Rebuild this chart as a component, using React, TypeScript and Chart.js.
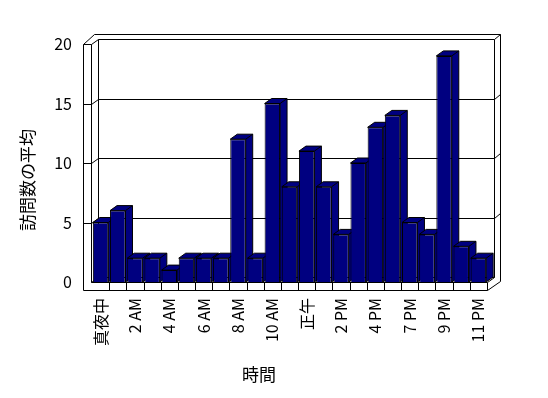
import React, { useEffect, useRef } from 'react';
import { Chart, registerables } from 'chart.js';

Chart.register(...registerables);

const hourLabels = [
  '真夜中', '1 AM', '2 AM', '3 AM', '4 AM', '5 AM', '6 AM', '7 AM', '8 AM', '9 AM', '10 AM', '11 AM',
  '正午', '1 PM', '2 PM', '3 PM', '4 PM', '5 PM', '7 PM', '8 PM', '9 PM', '10 PM', '11 PM',
];
const avgVisits = [5, 6, 2, 2, 1, 2, 2, 2, 12, 2, 15, 8, 11, 8, 4, 10, 13, 14, 5, 4, 19, 3, 2];
const yTickValues = [0, 5, 10, 15, 20];
const yTitle = '訪問数の平均';
const xTitle = '時間';

const FONT = '"Noto Sans CJK JP", "Noto Sans", sans-serif';
const NAVY = '#000080';
const DX = 7;
const DY = 5;

const px = (v: number) => Math.round(v) + 0.5;

const frame3d = {
  id: 'frame3d',
  beforeDatasetsDraw(chart: any) {
    const { ctx, chartArea: a, scales } = chart;
    const ys = scales.y;
    const xs = scales.x;
    const L = a.left - 1;
    const R = a.right;
    const B = ys.getPixelForValue(0);
    const T = ys.getPixelForValue(20);
    const OL = L - 8;
    const FB = B + 8;
    const OR = R + 13;
    ctx.save();
    ctx.strokeStyle = '#000';
    ctx.lineWidth = 1;
    const line = (pts: number[][]) => {
      ctx.beginPath();
      pts.forEach((p, i) => (i === 0 ? ctx.moveTo(px(p[0]), px(p[1])) : ctx.lineTo(px(p[0]), px(p[1]))));
      ctx.stroke();
    };
    line([[OL, T], [OL, FB]]);
    line([[L, T], [L, B]]);
    line([[L + DX, T - DY], [L + DX, B - DY]]);
    line([[R + DX, T - DY], [R + DX, B - DY]]);
    line([[OR, T - 10], [OR, FB - 9]]);
    line([[OL, FB], [R, FB], [R, B]]);
    line([[L, B], [R, B], [R + DX, B - DY]]);
    line([[R, FB], [OR, FB - 9]]);
    line([[L, B], [L + DX, B - DY], [R + DX, B - DY]]);
    line([[OL, T], [OL + 11, T - 10], [OR, T - 10]]);
    yTickValues.forEach((v) => {
      if (v === 0) return;
      const y = ys.getPixelForValue(v);
      line([[OL, y], [L, y], [L + DX, y - DY], [R + DX, y - DY], [OR, y - DY - 5]]);
    });
    const n = hourLabels.length;
    const step = xs.getPixelForValue(1) - xs.getPixelForValue(0);
    for (let i = 1; i < n; i++) {
      const x = xs.getPixelForValue(i) - step / 2;
      line([[x, B], [x, FB]]);
    }
    const meta = chart.getDatasetMeta(0);
    ctx.fillStyle = NAVY;
    meta.data.forEach((el: any) => {
      const { x, y, base, width } = el.getProps(['x', 'y', 'base', 'width'], true);
      const l = x - width / 2;
      const r = x + width / 2;
      ctx.beginPath();
      ctx.moveTo(l, y);
      ctx.lineTo(l + DX, y - DY);
      ctx.lineTo(r + DX, y - DY);
      ctx.lineTo(r + DX, base - DY);
      ctx.lineTo(r, base);
      ctx.lineTo(r, y);
      ctx.closePath();
      ctx.fill();
      ctx.stroke();
      ctx.beginPath();
      ctx.moveTo(r, y);
      ctx.lineTo(r + DX, y - DY);
      ctx.stroke();
    });
    ctx.restore();
  },
  afterDraw(chart: any) {
    const { ctx } = chart;
    ctx.save();
    ctx.fillStyle = '#000';
    ctx.font = `17px ${FONT}`;
    ctx.textAlign = 'center';
    ctx.textBaseline = 'middle';
    ctx.fillText(xTitle, 259, 375);
    ctx.translate(28, 180);
    ctx.rotate(-Math.PI / 2);
    ctx.fillText(yTitle, 0, 0);
    ctx.restore();
  },
};

export default function App() {
  const ref = useRef<HTMLCanvasElement>(null);
  useEffect(() => {
    document.body.style.margin = '0';
    const chart = new Chart(ref.current as HTMLCanvasElement, {
      type: 'bar',
      data: {
        labels: hourLabels,
        datasets: [
          {
            data: avgVisits,
            backgroundColor: NAVY,
            borderColor: '#000',
            borderWidth: 1,
            barPercentage: 0.9,
            categoryPercentage: 1,
          },
        ],
      },
      options: {
        animation: false,
        responsive: false,
        maintainAspectRatio: false,
        layout: { padding: { top: 44, right: 61, left: 0, bottom: 0 } },
        plugins: { legend: { display: false }, tooltip: { enabled: false } },
        scales: {
          x: {
            grid: { display: false, drawTicks: false },
            border: { display: false },
            afterFit: (s: any) => {
              s.height = 116;
            },
            ticks: {
              autoSkip: false,
              maxRotation: 90,
              minRotation: 90,
              padding: 16,
              color: '#000',
              font: { family: FONT, size: 16 },
              callback: function (this: any, value: any, index: number) {
                return index % 2 === 0 ? hourLabels[index] : '';
              },
            },
          },
          y: {
            min: 0,
            max: 20,
            grid: { display: false, drawTicks: false },
            border: { display: false },
            afterFit: (s: any) => {
              s.width = 92;
            },
            afterBuildTicks: (s: any) => {
              s.ticks = yTickValues.map((v) => ({ value: v }));
            },
            ticks: {
              padding: 20,
              color: '#000',
              font: { family: FONT, size: 16 },
            },
          },
        },
      },
      plugins: [frame3d],
    });
    return () => chart.destroy();
  }, []);
  return (
    <div style={{ position: 'absolute', left: 0, top: 0, width: 548, height: 398 }}>
      <canvas ref={ref} width={548} height={398} />
    </div>
  );
}
